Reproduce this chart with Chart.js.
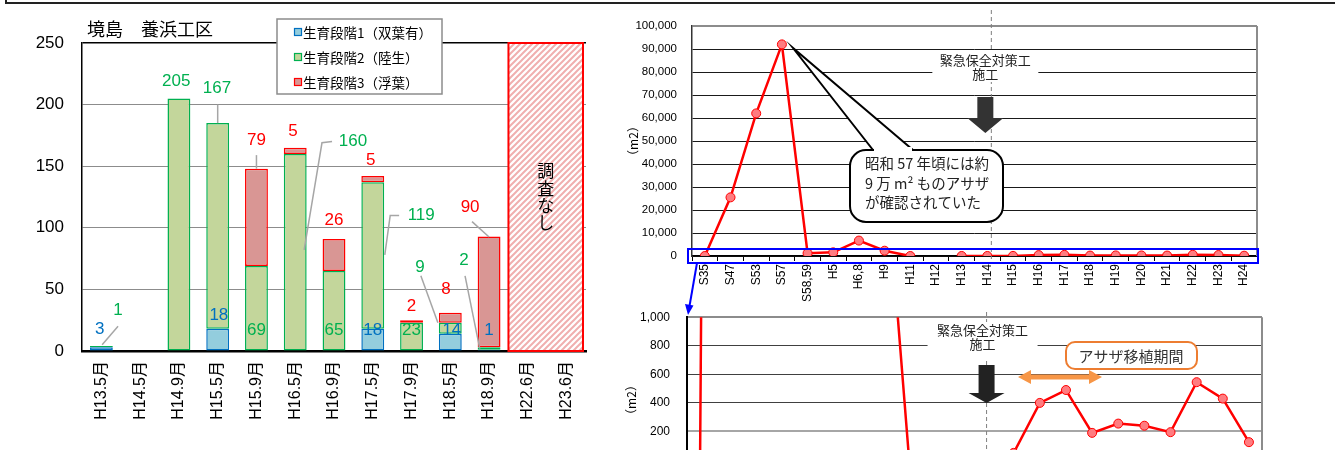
<!DOCTYPE html>
<html lang="ja">
<head>
<meta charset="utf-8">
<title>アサザ生育状況</title>
<script src="https://cdn.jsdelivr.net/npm/chart.js@4.4.1/dist/chart.umd.min.js"></script>
<style>
html, body { margin: 0; padding: 0; background: #fff; width: 1335px; height: 450px; overflow: hidden; }
canvas { position: absolute; }
#frame { position: absolute; left: 5px; top: 0; width: 1330px; height: 2px; border-left: 2px solid #222; border-bottom: 2px solid #222; }
</style>
</head>
<body>
<div id="frame"></div>
<canvas id="stageChart" width="600" height="450" style="left:0;top:0"></canvas>
<canvas id="areaLower" width="735" height="227" style="left:600px;top:293px"></canvas>
<canvas id="areaChart" width="735" height="320" style="left:600px;top:0;z-index:2"></canvas>
<script>
const FONT = "'Liberation Sans', 'Noto Sans CJK JP', sans-serif";
const JP = "'Noto Sans CJK JP', 'Liberation Sans', sans-serif";

// 境島 養浜工区: counts per survey, by growth stage
const stageLabels = ['H13.5月', 'H14.5月', 'H14.9月', 'H15.5月', 'H15.9月', 'H16.5月', 'H16.9月',
                     'H17.5月', 'H17.9月', 'H18.5月', 'H18.9月', 'H22.6月', 'H23.6月'];
const stage1 = [3, null, null, 18, null, null, null, 18, null, 14, 1, null, null];
const stage2 = [1, null, 205, 167, 69, 160, 65, 119, 23, 9, 2, null, null];
const stage3 = [null, null, null, null, 79, 5, 26, 5, 2, 8, 90, null, null];
const stageNames = ['生育段階1（双葉有）', '生育段階2（陸生）', '生育段階3（浮葉）'];
const noSurvey = ['H22.6月', 'H23.6月'];

// アサザ群落面積 (m2) by year
const yearLabels = ['S35', 'S47', 'S53', 'S57', 'S58,59', 'H5', 'H6,8', 'H9', 'H11', 'H12', 'H13',
                    'H14', 'H15', 'H16', 'H17', 'H18', 'H19', 'H20', 'H21', 'H22', 'H23', 'H24'];
const areaValues = [0, 25500, 62000, 92000, 1200, 1600, 6700, 2300, 0, null, 10, 20,
                    50, 400, 490, 190, 255, 240, 195, 545, 430, 125];

Chart.defaults.font.family = FONT;
Chart.defaults.color = '#000';

const stageFill = ['#93CDDD', '#C3D69B', '#D99694'];
const stageLine = ['#0070C0', '#00B050', '#FF0000'];

// value label placement: dx in categories from the bar, v on the value axis, optional leader
const labelSpots = [
  { ds: 0, i: 0, dx: -0.04, v: 18 },
  { ds: 1, i: 0, dx: 0.43, v: 33, leader: [[0.43, 20], [0.02, 5]] },
  { ds: 1, i: 2, dx: -0.07, v: 219 },
  { ds: 0, i: 3, dx: 0.03, v: 29 },
  { ds: 1, i: 3, dx: -0.02, v: 213, leader: [[0, 200], [0, 185]] },
  { ds: 2, i: 4, dx: 0, v: 171, leader: [[0, 159], [0, 148]] },
  { ds: 1, i: 4, dx: 0, v: 17 },
  { ds: 2, i: 5, dx: -0.06, v: 178 },
  { ds: 1, i: 5, dx: 1.49, v: 170, leader: [[0.95, 170], [0.69, 169], [0.23, 82]] },
  { ds: 2, i: 6, dx: 0, v: 106 },
  { ds: 1, i: 6, dx: 0, v: 17 },
  { ds: 2, i: 7, dx: -0.05, v: 155 },
  { ds: 1, i: 7, dx: 1.25, v: 110, leader: [[0.68, 110], [0.45, 110], [0.31, 78]] },
  { ds: 0, i: 7, dx: 0, v: 17 },
  { ds: 2, i: 8, dx: 0, v: 36 },
  { ds: 1, i: 8, dx: 0, v: 17 },
  { ds: 1, i: 9, dx: -0.78, v: 68, leader: [[-0.76, 61], [-0.32, 23]] },
  { ds: 2, i: 9, dx: -0.11, v: 50 },
  { ds: 0, i: 9, dx: 0.04, v: 17 },
  { ds: 1, i: 10, dx: -0.65, v: 74, leader: [[-0.62, 61], [-0.24, 2]] },
  { ds: 2, i: 10, dx: -0.49, v: 117, leader: [[-0.44, 105], [0, 92.5]] },
  { ds: 0, i: 10, dx: 0, v: 17 }
];

function hatchPattern(ctx) {
  const c = document.createElement('canvas');
  c.width = 6; c.height = 6;
  const p = c.getContext('2d');
  p.fillStyle = '#fff';
  p.fillRect(0, 0, 6, 6);
  p.strokeStyle = '#F0AFAF';
  p.lineWidth = 2;
  p.beginPath();
  p.moveTo(-1, 7); p.lineTo(7, -1);
  p.moveTo(-4, 4); p.lineTo(4, -4);
  p.moveTo(2, 10); p.lineTo(10, 2);
  p.stroke();
  return ctx.createPattern(c, 'repeat');
}

const stagePlugin = {
  id: 'stageExtras',
  beforeDatasetsDraw(chart) {
    const { ctx, scales: { x, y } } = chart;
    const half = (x.getPixelForValue(1) - x.getPixelForValue(0)) / 2;
    const x0 = x.getPixelForValue(stageLabels.indexOf(noSurvey[0])) - half;
    const x1 = x.getPixelForValue(stageLabels.indexOf(noSurvey[1])) + half - 3;
    const top = y.getPixelForValue(250), bottom = y.getPixelForValue(0);
    ctx.save();
    ctx.fillStyle = hatchPattern(ctx);
    ctx.fillRect(x0, top, x1 - x0, bottom - top);
    ctx.strokeStyle = '#FF0000';
    ctx.lineWidth = 2;
    ctx.strokeRect(x0, top, x1 - x0, bottom - top);
    ctx.fillStyle = '#000';
    ctx.font = '17px ' + JP;
    ctx.textAlign = 'center';
    ctx.textBaseline = 'middle';
    const cx = (x0 + x1) / 2;
    [['調', 171], ['査', 189], ['な', 206], ['し', 223]].forEach(([ch, cy]) => ctx.fillText(ch, cx, cy));
    ctx.restore();
  },
  afterDraw(chart) {
    const { ctx, scales: { x, y } } = chart;
    const catW = x.getPixelForValue(1) - x.getPixelForValue(0);
    ctx.save();
    // leaders and value labels
    ctx.font = '17px ' + FONT;
    ctx.textAlign = 'center';
    ctx.textBaseline = 'middle';
    labelSpots.forEach(s => {
      const base = x.getPixelForValue(s.i);
      if (s.leader) {
        ctx.strokeStyle = '#A6A6A6';
        ctx.lineWidth = 1.5;
        ctx.beginPath();
        s.leader.forEach(([dx, v], k) => {
          const px = base + dx * catW, py = y.getPixelForValue(v);
          k ? ctx.lineTo(px, py) : ctx.moveTo(px, py);
        });
        ctx.stroke();
      }
      const value = chart.data.datasets[s.ds].data[s.i];
      ctx.fillStyle = stageLine[s.ds];
      ctx.fillText(String(value), base + s.dx * catW, y.getPixelForValue(s.v));
    });

    // title
    ctx.fillStyle = '#000';
    ctx.font = '18px ' + JP;
    ctx.textAlign = 'left';
    ctx.fillText('境島　養浜工区', 87, 29);

    // legend
    ctx.fillStyle = '#fff';
    ctx.fillRect(277, 19, 165, 75);
    ctx.strokeStyle = '#8C8C8C';
    ctx.lineWidth = 1.5;
    ctx.strokeRect(277, 19, 165, 75);
    ctx.font = '13.5px ' + JP;
    stageNames.forEach((name, k) => {
      const cy = 32 + k * 25;
      ctx.fillStyle = stageFill[k];
      ctx.fillRect(294.5, cy - 3.5, 7, 7);
      ctx.strokeStyle = stageLine[k];
      ctx.lineWidth = 1.2;
      ctx.strokeRect(294.5, cy - 3.5, 7, 7);
      ctx.fillStyle = '#000';
      ctx.fillText(name, 303, cy + 1);
    });
    ctx.restore();
  }
};

new Chart(document.getElementById('stageChart'), {
  type: 'bar',
  data: {
    labels: stageLabels,
    datasets: [stage1, stage2, stage3].map((d, k) => ({
      label: stageNames[k],
      data: d,
      backgroundColor: stageFill[k],
      borderColor: stageLine[k]
    }))
  },
  options: {
    responsive: false,
    animation: false,
    devicePixelRatio: 1,
    layout: { padding: { top: 43, right: 14, left: 0, bottom: 0 } },
    datasets: { bar: { borderWidth: 1.5, borderSkipped: false, categoryPercentage: 1, barPercentage: 0.59 } },
    plugins: { legend: { display: false }, tooltip: { enabled: false } },
    scales: {
      x: {
        stacked: true,
        grid: { display: false, drawTicks: false },
        border: { color: '#000', width: 2.5 },
        ticks: { minRotation: 90, maxRotation: 90, autoSkip: false, padding: 10, font: { size: 16 } },
        afterFit: s => { s.height = 99; }
      },
      y: {
        stacked: true,
        min: 0,
        max: 250,
        ticks: { stepSize: 50, padding: 18, font: { size: 17 } },
        grid: {
          drawTicks: false,
          color: c => c.tick.value === 250 ? '#000' : '#8C8C8C',
          lineWidth: c => c.tick.value === 250 ? 1.5 : 1
        },
        border: { color: '#000', width: 1.5 },
        afterFit: s => { s.width = 82; }
      }
    }
  },
  plugins: [stagePlugin]
});

function blockArrowDown(ctx, cx, y0, y1, y2, shaftW, headW, color) {
  ctx.fillStyle = color;
  ctx.beginPath();
  ctx.moveTo(cx - shaftW / 2, y0);
  ctx.lineTo(cx + shaftW / 2, y0);
  ctx.lineTo(cx + shaftW / 2, y1);
  ctx.lineTo(cx + headW / 2, y1);
  ctx.lineTo(cx, y2);
  ctx.lineTo(cx - headW / 2, y1);
  ctx.lineTo(cx - shaftW / 2, y1);
  ctx.closePath();
  ctx.fill();
}

function notice(ctx, cx, y0, y1, halfW) {
  ctx.fillStyle = '#fff';
  ctx.fillRect(cx - halfW, y0, halfW * 2, y1 - y0);
  ctx.fillStyle = '#222';
  ctx.font = '13px ' + JP;
  ctx.textAlign = 'center';
  ctx.textBaseline = 'middle';
  ctx.fillText('緊急保全対策工', cx, y0 + 8);
  ctx.fillText('施工', cx, y0 + 22);
}

function verticalTitle(ctx, text, x, y) {
  ctx.save();
  ctx.translate(x, y);
  ctx.rotate(-Math.PI / 2);
  ctx.fillStyle = '#000';
  ctx.font = '12px ' + JP;
  ctx.textAlign = 'center';
  ctx.textBaseline = 'middle';
  ctx.fillText(text, 0, 0);
  ctx.restore();
}

function rightBorder(ctx, ca) {
  ctx.strokeStyle = '#8C8C8C';
  ctx.lineWidth = 2;
  ctx.beginPath();
  ctx.moveTo(ca.right, ca.top);
  ctx.lineTo(ca.right, ca.bottom);
  ctx.stroke();
}

const areaPlugin = {
  id: 'areaExtras',
  beforeDatasetsDraw(chart) {
    const { ctx, chartArea: ca, scales: { x } } = chart;
    ctx.save();
    rightBorder(ctx, ca);
    ctx.strokeStyle = '#7F7F7F';
    ctx.lineWidth = 1;
    ctx.setLineDash([4, 3]);
    const dx = x.getPixelForValue(yearLabels.indexOf('H14')) + 4;
    ctx.beginPath();
    ctx.moveTo(dx, 10);
    ctx.lineTo(dx, ca.bottom + 6);
    ctx.stroke();
    ctx.restore();
  },
  afterDatasetsDraw(chart) {
    const { ctx, chartArea: ca, scales: { x } } = chart;
    const cx = x.getPixelForValue(yearLabels.indexOf('H14')) - 2;
    ctx.save();
    notice(ctx, cx, 52, 82, 53);
    blockArrowDown(ctx, cx, 97, 118, 133, 16, 36, '#333');

    // callout
    ctx.fillStyle = '#fff';
    ctx.strokeStyle = '#000';
    ctx.lineWidth = 2;
    ctx.beginPath();
    ctx.moveTo(273, 150);
    ctx.lineTo(193, 48);
    ctx.lineTo(313, 150);
    ctx.closePath();
    ctx.fill();
    ctx.beginPath();
    ctx.roundRect(250, 150, 153, 72, 16);
    ctx.fill();
    ctx.stroke();
    ctx.beginPath();
    ctx.moveTo(273, 150);
    ctx.lineTo(193, 48);
    ctx.lineTo(313, 150);
    ctx.stroke();
    ctx.fillStyle = '#fff';
    ctx.fillRect(274, 147, 38, 5);
    ctx.fillStyle = '#222';
    ctx.font = '14.5px ' + JP;
    ctx.textAlign = 'left';
    ctx.textBaseline = 'middle';
    ctx.fillText('昭和 57 年頃には約', 265, 163);
    ctx.fillText('9 万 m² ものアサザ', 265, 183);
    ctx.fillText('が確認されていた', 265, 202);

    // zoomed band and pointer
    ctx.strokeStyle = '#0000FF';
    ctx.lineWidth = 2;
    ctx.strokeRect(ca.left - 4, 249, ca.right - ca.left + 5, 14);
    ctx.beginPath();
    ctx.moveTo(97, 263);
    ctx.lineTo(89.5, 306);
    ctx.stroke();
    ctx.fillStyle = '#0000FF';
    ctx.beginPath();
    ctx.moveTo(88, 315);
    ctx.lineTo(85, 304);
    ctx.lineTo(93.5, 305.5);
    ctx.closePath();
    ctx.fill();
    ctx.restore();
    verticalTitle(ctx, '（m2）', 33, 141);
  }
};

const pointStyle = {
  borderColor: '#FF0000',
  borderWidth: 2.5,
  pointRadius: 4.5,
  pointBackgroundColor: '#FF7C80',
  pointBorderColor: '#FF0000',
  pointBorderWidth: 1,
  tension: 0
};

new Chart(document.getElementById('areaChart'), {
  type: 'line',
  data: { labels: yearLabels, datasets: [{ label: '面積', data: areaValues, ...pointStyle }] },
  options: {
    responsive: false,
    animation: false,
    devicePixelRatio: 1,
    layout: { padding: { top: 26, right: 78, left: 0, bottom: 0 } },
    plugins: { legend: { display: false }, tooltip: { enabled: false } },
    scales: {
      x: {
        offset: true,
        grid: { offset: true, drawOnChartArea: false, tickLength: 5, color: '#000' },
        border: { color: '#000', width: 1.5 },
        ticks: { minRotation: 90, maxRotation: 90, autoSkip: false, padding: 3, font: { size: 12 } },
        afterFit: s => { s.height = 64; }
      },
      y: {
        min: 0,
        max: 100000,
        ticks: { stepSize: 10000, padding: 15, font: { size: 11.5 }, callback: v => v.toLocaleString('en-US') },
        grid: {
          drawTicks: false,
          color: c => c.tick.value === 100000 ? '#8C8C8C' : '#1A1A1A',
          lineWidth: c => c.tick.value === 100000 ? 2 : 1
        },
        border: { color: '#333', width: 1.5 },
        afterFit: s => { s.width = 92; }
      }
    }
  },
  plugins: [areaPlugin]
});

// the lower canvas sits 7px higher than its drawing grid, so annotations shift down by that
const LOWER_SHIFT = 7;

const lowerPlugin = {
  id: 'lowerExtras',
  beforeDatasetsDraw(chart) {
    const { ctx, chartArea: ca, scales: { x } } = chart;
    const dx = x.getPixelForValue(yearLabels.indexOf('H14')) - 1;
    ctx.save();
    rightBorder(ctx, ca);
    ctx.translate(0, LOWER_SHIFT);
    ctx.strokeStyle = '#7F7F7F';
    ctx.lineWidth = 1;
    ctx.setLineDash([4, 3]);
    ctx.beginPath();
    ctx.moveTo(dx, 12);
    ctx.lineTo(dx, ca.bottom);
    ctx.stroke();
    ctx.setLineDash([]);
    notice(ctx, dx - 4, 22, 58, 55);
    blockArrowDown(ctx, dx, 65, 93, 103, 16, 36, '#222');

    // transplanting period
    const y = 77, x1 = 418, x2 = 502, head = 13, hw = 7, t = 2.5;
    ctx.fillStyle = '#F79646';
    ctx.beginPath();
    ctx.moveTo(x1, y);
    ctx.lineTo(x1 + head, y - hw);
    ctx.lineTo(x1 + head, y - t);
    ctx.lineTo(x2 - head, y - t);
    ctx.lineTo(x2 - head, y - hw);
    ctx.lineTo(x2, y);
    ctx.lineTo(x2 - head, y + hw);
    ctx.lineTo(x2 - head, y + t);
    ctx.lineTo(x1 + head, y + t);
    ctx.lineTo(x1 + head, y + hw);
    ctx.closePath();
    ctx.fill();
    ctx.fillStyle = '#fff';
    ctx.strokeStyle = '#ED7D31';
    ctx.lineWidth = 2;
    ctx.beginPath();
    ctx.roundRect(466, 42, 131, 27, 9);
    ctx.fill();
    ctx.stroke();
    ctx.fillStyle = '#333';
    ctx.font = '15px ' + JP;
    ctx.textAlign = 'center';
    ctx.textBaseline = 'middle';
    ctx.fillText('アサザ移植期間', 531, 56);
    verticalTitle(ctx, '（m2）', 31, 100);
    ctx.restore();
  }
};

new Chart(document.getElementById('areaLower'), {
  type: 'line',
  data: { labels: yearLabels, datasets: [{ label: '面積', data: areaValues, clip: 0, ...pointStyle }] },
  options: {
    responsive: false,
    animation: false,
    devicePixelRatio: 1,
    layout: { padding: { top: 10, right: 73, left: 0, bottom: 0 } },
    plugins: { legend: { display: false }, tooltip: { enabled: false } },
    scales: {
      x: {
        offset: true,
        grid: { offset: true, drawOnChartArea: false, tickLength: 5, color: '#000' },
        border: { color: '#000', width: 1.5 },
        ticks: { minRotation: 90, maxRotation: 90, autoSkip: false, padding: 3, font: { size: 12 } },
        afterFit: s => { s.height = 60; }
      },
      y: {
        min: 0,
        max: 1000,
        ticks: { stepSize: 200, padding: 17, font: { size: 12 }, callback: v => v.toLocaleString('en-US') },
        grid: {
          drawTicks: false,
          color: c => c.tick.value === 1000 ? '#8C8C8C' : c.tick.value === 200 ? '#A6A6A6' : '#404040',
          lineWidth: c => (c.tick.value === 1000 || c.tick.value === 200) ? 2 : 1
        },
        border: { color: '#000', width: 2 },
        afterFit: s => { s.width = 87; }
      }
    }
  },
  plugins: [lowerPlugin]
});
</script>
</body>
</html>
